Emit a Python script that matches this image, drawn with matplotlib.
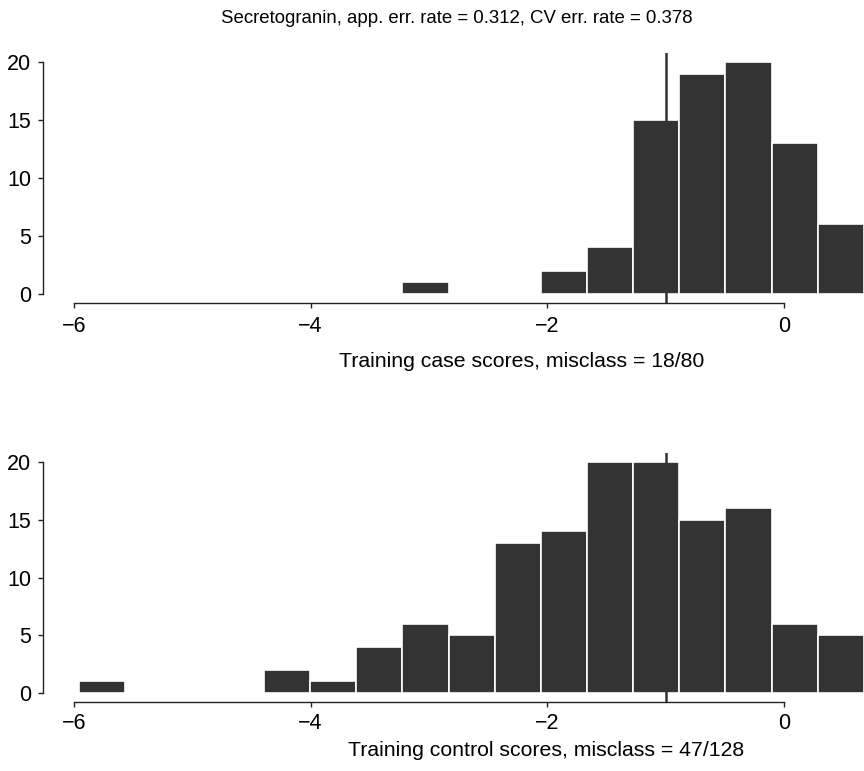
import numpy as np
import matplotlib
matplotlib.use("Agg")
import matplotlib.pyplot as plt

plt.rcParams['font.family'] = ['Liberation Sans', 'DejaVu Sans']

# histogram bins (same for both panels)
bin_start = -5.955
bin_width = 0.39
n_bins = 17

# counts per bin
case_counts = [0, 0, 0, 0, 0, 0, 0, 1, 0, 0, 2, 4, 15, 19, 20, 13, 6]
control_counts = [1, 0, 0, 0, 2, 1, 4, 6, 5, 13, 14, 20, 20, 15, 16, 6, 5]

cutoff = -1.0
title = "Secretogranin, app. err. rate = 0.312, CV err. rate = 0.378"
case_label = "Training case scores, misclass = 18/80"
control_label = "Training control scores, misclass = 47/128"

edges = bin_start + bin_width * np.arange(n_bins + 1)

W, H = 864, 771
fig = plt.figure(figsize=(W / 100, H / 100), dpi=100)

bar_col = '#333333'
axis_col = '#222222'
tick_fs = 15.5


def panel(ax, counts, xpad):
    ax.bar(edges[:-1], counts, width=bin_width, align='edge',
           color=bar_col, edgecolor='white', linewidth=1.2)
    ax.axvline(cutoff, color=bar_col, lw=1.8)
    ax.set_xlim(-6.262, 0.676)
    ax.set_ylim(-0.8, 20.8)
    for s in ['top', 'right']:
        ax.spines[s].set_visible(False)
    ax.spines['left'].set_bounds(0, 20)
    ax.spines['bottom'].set_bounds(-6, 0)
    for s in ['left', 'bottom']:
        ax.spines[s].set_color(axis_col)
        ax.spines[s].set_linewidth(1.0)
    ax.set_xticks([-6, -4, -2, 0])
    ax.set_yticks([0, 5, 10, 15, 20])
    ax.tick_params(axis='x', length=3.4, width=1.0, color=axis_col,
                   labelsize=tick_fs, pad=xpad)
    ax.tick_params(axis='y', length=3.4, width=1.0, color=axis_col,
                   labelsize=tick_fs, pad=5)


left = 43 / W
width = 1 - left
ax1 = fig.add_axes([left, 1 - 303 / H, width, 250 / H])
panel(ax1, case_counts, 6)
ax2 = fig.add_axes([left, 1 - 702 / H, width, 249 / H])
panel(ax2, control_counts, 4.5)

fig.text(456.7 / W, 1 - 23 / H, title, ha='center', va='baseline', fontsize=13.4)
fig.text(521.5 / W, 1 - 367 / H, case_label, ha='center', va='baseline', fontsize=15.3)
fig.text(546 / W, 1 - 756 / H, control_label, ha='center', va='baseline', fontsize=15.3)

fig.savefig("out.png", dpi=100)
